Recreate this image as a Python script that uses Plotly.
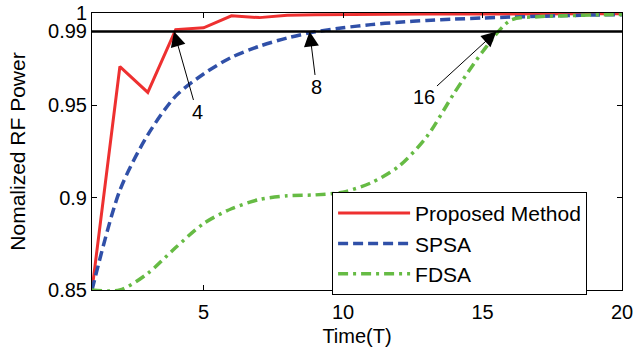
import plotly.graph_objects as go

time_t = list(range(1, 21))
proposed = [0.85, 0.971, 0.957, 0.991, 0.992, 0.9985, 0.9975, 0.9988, 0.999, 0.9992,
            0.9993, 0.9993, 0.9994, 0.9994, 0.9995, 0.9995, 0.9995, 0.9995, 0.9996, 0.9996]
spsa = [0.85, 0.904, 0.934, 0.955, 0.967, 0.976, 0.982, 0.9865, 0.9898, 0.9920,
        0.9937, 0.9950, 0.9960, 0.9967, 0.9973, 0.9978, 0.9982, 0.9986, 0.9989, 0.9991]
fdsa = [0.85, 0.85, 0.859, 0.873, 0.886, 0.894, 0.899, 0.901, 0.9015, 0.903,
        0.908, 0.917, 0.933, 0.957, 0.979, 0.996, 0.998, 0.9985, 0.999, 0.9992]
threshold = 0.99
y_ticks = [0.85, 0.9, 0.95, 0.99, 1]
y_tick_text = ["0.85", "0.9", "0.95", "0.99", "1"]
x_ticks = [5, 10, 15, 20]
annotations_info = [("4", 3.94, 23, 81), ("8", 8.8, 7, 56), ("16", 15.5, -72, 66)]

FONT = "Liberation Sans, Arial, sans-serif"

fig = go.Figure()
fig.add_trace(go.Scatter(x=time_t, y=proposed, mode="lines", name="Proposed Method",
                         line=dict(color="#EE3030", width=3)))
fig.add_trace(go.Scatter(x=time_t, y=spsa, mode="lines", name="SPSA",
                         line=dict(color="#3050A8", width=3.5, dash="10px,5px", shape="spline", smoothing=0.8)))
fig.add_trace(go.Scatter(x=time_t, y=fdsa, mode="lines", name="FDSA",
                         line=dict(color="#66BB44", width=3.5, dash="10px,5px,3px,5px", shape="spline", smoothing=0.8)))

fig.add_shape(type="line", xref="paper", x0=0, x1=1, yref="y", y0=threshold, y1=threshold,
              line=dict(color="black", width=2.5))

for txt, xv, axv, ayv in annotations_info:
    fig.add_annotation(x=xv, y=threshold, text=txt, showarrow=True, ax=axv, ay=ayv,
                       arrowhead=2, arrowsize=3, arrowwidth=1, arrowcolor="black",
                       font=dict(family=FONT, size=20, color="black"))

fig.update_layout(
    width=640, height=351,
    margin=dict(l=92, r=18, t=13, b=61, autoexpand=False),
    paper_bgcolor="white", plot_bgcolor="white",
    font=dict(family=FONT, size=20, color="black"),
    showlegend=True,
    legend=dict(x=0.453, y=0.354, xanchor="left", yanchor="top",
                bgcolor="white", bordercolor="black", borderwidth=1,
                font=dict(family=FONT, size=21, color="black"),
                itemwidth=72, tracegroupgap=0),
)
fig.update_xaxes(range=[1, 20], tickvals=x_ticks, ticks="inside", ticklen=5, tickcolor="black",
                 showline=True, linecolor="black", linewidth=1, mirror="ticks", showgrid=False,
                 zeroline=False, automargin=False, ticklabelstandoff=4, ticklabeloverflow="allow",
                 title=dict(text="Time(T)", standoff=6, font=dict(size=20)),
                 tickfont=dict(size=20))
fig.update_yaxes(range=[0.85, 1.0], tickvals=y_ticks, ticktext=y_tick_text, ticks="inside",
                 ticklen=5, tickcolor="black", showline=True, linecolor="black", linewidth=1,
                 mirror="ticks", showgrid=False, zeroline=False, automargin=False,
                 ticklabeloverflow="allow",
                 title=dict(text="Nomalized RF Power", standoff=16, font=dict(size=21)),
                 tickfont=dict(size=20))

fig.write_html("out.html", config={"displayModeBar": False},
               post_script="document.body.style.margin='0';")
